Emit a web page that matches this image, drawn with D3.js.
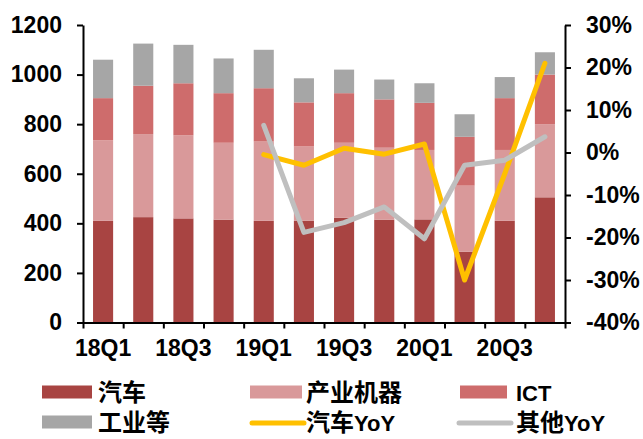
<!DOCTYPE html>
<html>
<head>
<meta charset="utf-8">
<script src="https://cdn.jsdelivr.net/npm/d3@7"></script>
<style>
  html, body { margin: 0; padding: 0; background: #fff; }
  svg { display: block; }
</style>
</head>
<body>
<svg id="chart" width="643" height="439"></svg>
<script>
// ---- data ----
const categories = ['18Q1','18Q2','18Q3','18Q4','19Q1','19Q2','19Q3','19Q4','20Q1','20Q2','20Q3','20Q4'];
const tickLabels = ['18Q1','18Q3','19Q1','19Q3','20Q1','20Q3'];
const auto     = [410, 425, 420, 415, 410, 410, 422, 415, 416, 285, 410, 505];
const industry = [325, 335, 335, 310, 320, 300, 303, 290, 280, 267, 286, 295];
const ict      = [170, 195, 210, 200, 215, 178, 200, 195, 190, 197, 209, 200];
const others   = [155, 170, 155, 140, 155,  97,  95,  80,  79,  91,  85,  90];
const autoYoY  = [null, null, null, null, -0.5, -3.0, 1.0, -0.4, 2.0, -30.0, -5.0, 21.0];
const otherYoY = [null, null, null, null, 6.4, -18.8, -16.5, -12.8, -20.3, -3.0, -1.8, 3.7];
const leftTicks = [0, 200, 400, 600, 800, 1000, 1200];
const rightTicks = [-40, -30, -20, -10, 0, 10, 20, 30];

const seriesNames = ['汽车', '产业机器', 'ICT', '工业等'];
const seriesColors = ['#A84442', '#D9999A', '#CE6C6C', '#A6A6A6'];
const lineNames = ['汽车YoY', '其他YoY'];
const lineColors = ['#FFC000', '#BFBFBF'];

// ---- layout ----
const svg = d3.select('#chart');
const X0 = 83, X1 = 565, YTOP = 25, YBOT = 322.5;
const latinFont = '"Liberation Sans", Arial, sans-serif';
const cjkFont = '"Noto Sans CJK SC", "Liberation Sans", sans-serif';

const x = d3.scaleBand().domain(categories).range([X0, X1]).paddingInner(0.5).paddingOuter(0.25);
const yL = d3.scaleLinear().domain([0, 1200]).range([YBOT, YTOP]);
const yR = d3.scaleLinear().domain([-40, 30]).range([YBOT, YTOP]);

// stacked bars
const rows = categories.map((c, i) => ({cat: c, s0: auto[i], s1: industry[i], s2: ict[i], s3: others[i]}));
const stack = d3.stack().keys(['s0', 's1', 's2', 's3'])(rows);
svg.append('g').selectAll('g').data(stack).join('g')
  .attr('fill', (d, i) => seriesColors[i])
  .selectAll('rect').data(d => d).join('rect')
  .attr('x', d => x(d.data.cat))
  .attr('width', x.bandwidth())
  .attr('y', d => yL(d[1]))
  .attr('height', d => yL(d[0]) - yL(d[1]));

// lines (yellow first, grey on top)
const cx = c => x(c) + x.bandwidth() / 2;
[autoYoY, otherYoY].forEach((arr, idx) => {
  const line = d3.line()
    .defined(d => d.v !== null)
    .x(d => cx(d.c))
    .y(d => yR(d.v));
  svg.append('path')
    .datum(categories.map((c, i) => ({c, v: arr[i]})))
    .attr('fill', 'none')
    .attr('stroke', lineColors[idx])
    .attr('stroke-width', 5)
    .attr('stroke-linejoin', 'round')
    .attr('stroke-linecap', 'round')
    .attr('d', line);
});

// axes
const axisStyle = g => {
  g.selectAll('path.domain').attr('stroke', '#000').attr('stroke-width', 2);
  g.selectAll('.tick line').attr('stroke', '#000').attr('stroke-width', 2);
  g.selectAll('text').attr('font-family', latinFont).attr('font-size', 23)
    .attr('font-weight', 'bold').attr('fill', '#000');
};

const gL = svg.append('g').attr('transform', `translate(${X0},0)`)
  .call(d3.axisLeft(yL).tickValues(leftTicks).tickSize(6).tickSizeOuter(0).tickPadding(15).tickFormat(d3.format('d')));
axisStyle(gL);

const gR = svg.append('g').attr('transform', `translate(${X1},0)`)
  .call(d3.axisRight(yR).tickValues(rightTicks).tickSize(6).tickSizeOuter(0).tickPadding(15).tickFormat(d => d + '%'));
axisStyle(gR);

// x axis: ticks at band boundaries, labels at every other category
const bounds = d3.range(categories.length + 1).map(i => X0 + i * (X1 - X0) / categories.length);
const xb = d3.scaleLinear().domain([X0, X1]).range([X0, X1]);
const gX = svg.append('g').attr('transform', `translate(0,${YBOT})`)
  .call(d3.axisBottom(xb).tickValues(bounds).tickSize(6).tickSizeOuter(0).tickFormat(''));
axisStyle(gX);
svg.append('g').selectAll('text').data(tickLabels).join('text')
  .attr('x', d => cx(d))
  .attr('y', 356)
  .attr('text-anchor', 'middle')
  .attr('font-family', latinFont).attr('font-size', 23).attr('font-weight', 'bold')
  .text(d => d);

// legend
const legendItems = [
  {name: seriesNames[0], type: 'rect', color: seriesColors[0], sx: 42, sw: 50, tx: 98, row: 0},
  {name: seriesNames[1], type: 'rect', color: seriesColors[1], sx: 250, sw: 52, tx: 306, row: 0},
  {name: seriesNames[2], type: 'rect', color: seriesColors[2], sx: 460, sw: 47, tx: 516, row: 0},
  {name: seriesNames[3], type: 'rect', color: seriesColors[3], sx: 42, sw: 50, tx: 98, row: 1},
  {name: lineNames[0], type: 'line', color: lineColors[0], sx: 252, sw: 52, tx: 306, row: 1},
  {name: lineNames[1], type: 'line', color: lineColors[1], sx: 459, sw: 52, tx: 516, row: 1}
];
const rowY = [392, 422];
const lg = svg.append('g');
legendItems.forEach(it => {
  const cy = rowY[it.row];
  if (it.type === 'rect') {
    lg.append('rect').attr('x', it.sx).attr('y', cy - 6.5).attr('width', it.sw).attr('height', 13).attr('fill', it.color);
  } else {
    lg.append('line').attr('x1', it.sx).attr('x2', it.sx + it.sw).attr('y1', cy + 1).attr('y2', cy + 1)
      .attr('stroke', it.color).attr('stroke-width', 5).attr('stroke-linecap', 'round');
  }
  const t = lg.append('text').attr('x', it.tx).attr('y', cy + 8.5).attr('font-weight', 'bold').attr('fill', '#000');
  const runs = it.name.match(/[\u3000-\u9fff]+|[^\u3000-\u9fff]+/g);
  runs.forEach(r => {
    const cjk = /[\u3000-\u9fff]/.test(r);
    t.append('tspan').attr('font-family', cjk ? cjkFont : latinFont)
      .attr('font-size', cjk ? 24 : 22).text(r);
  });
});
</script>
</body>
</html>
